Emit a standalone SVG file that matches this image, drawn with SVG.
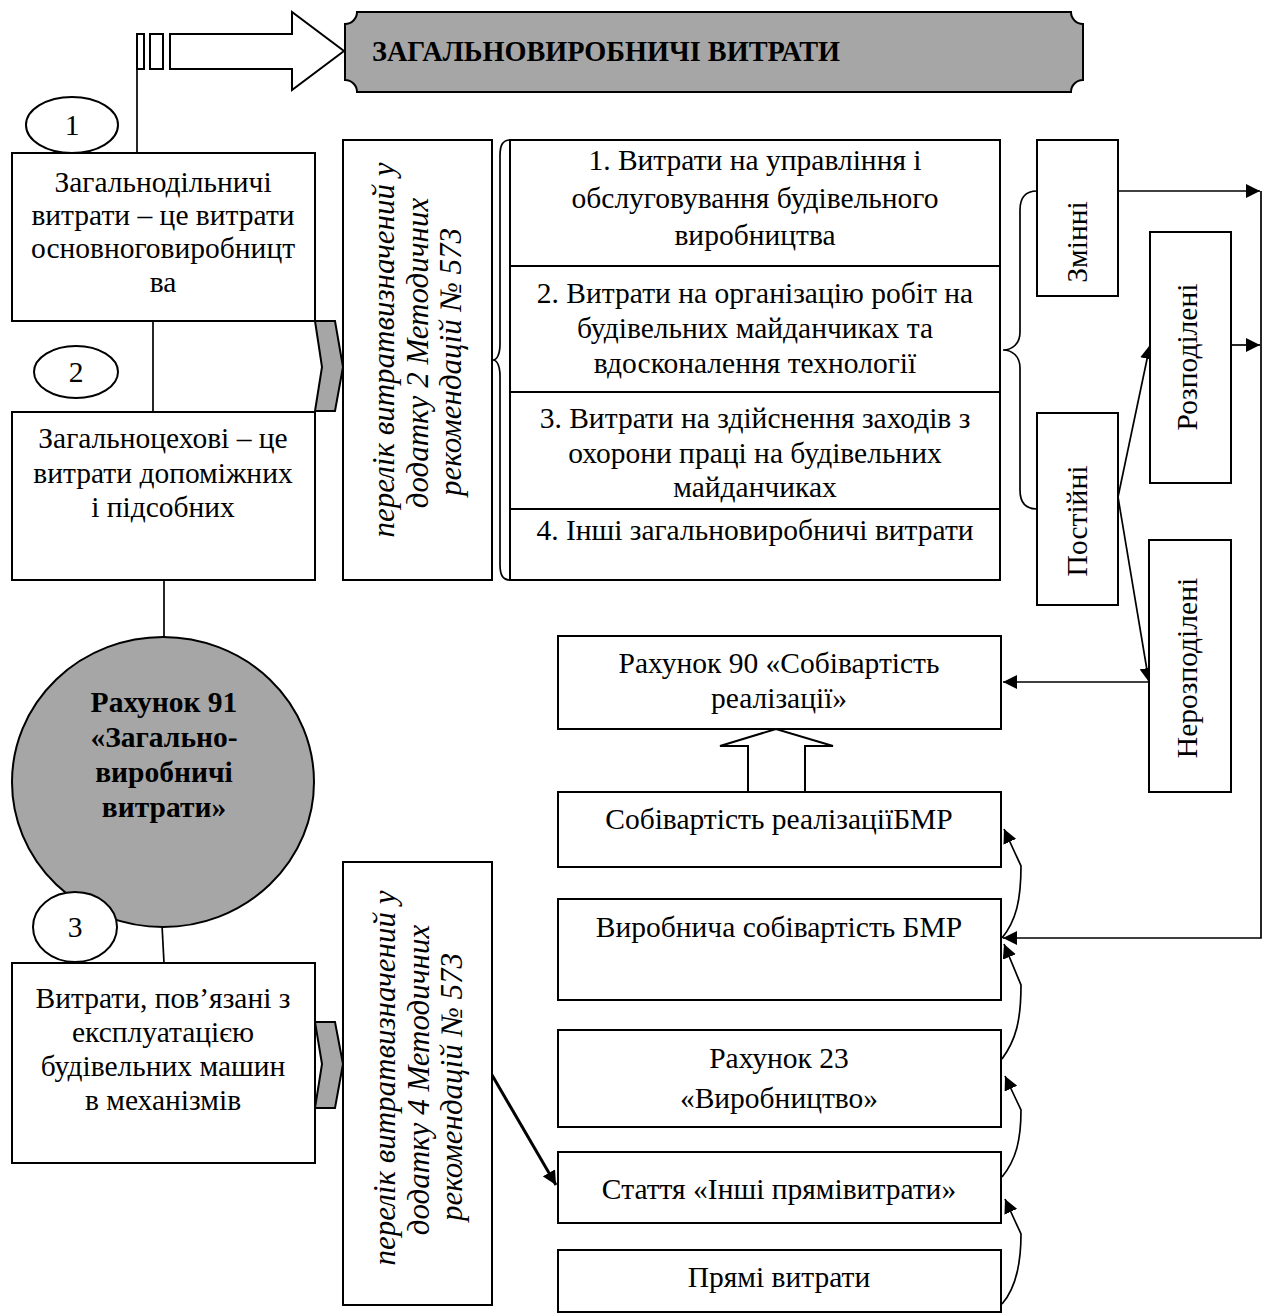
<svg xmlns="http://www.w3.org/2000/svg" width="1263" height="1314" viewBox="0 0 1263 1314">
<defs>
<style>
text{font-family:"Liberation Serif","Times New Roman",serif;font-size:29.5px;fill:#000}
.c{text-anchor:middle}
.b{font-weight:bold}
.i{font-style:italic;font-size:31px}
.box{fill:#fff;stroke:#000;stroke-width:2}
.ln{fill:none;stroke:#000;stroke-width:1.7}
.grey{fill:#a6a6a6;stroke:#000;stroke-width:2}
</style>
<marker id="ah" viewBox="0 0 14 14" refX="14" refY="7" markerWidth="14" markerHeight="14" markerUnits="userSpaceOnUse" orient="auto"><path d="M0,0 L14,7 L0,14 z" fill="#000" stroke="none"/></marker>
</defs>

<g id="connectors">
<path class="ln" d="M137,70 V153"/>
<path class="ln" d="M153,321 V412"/>
<path class="ln" d="M164,580 V637"/>
<path class="ln" d="M162,925 L164,963"/>
<path class="ln" d="M1118,191 H1260" marker-end="url(#ah)"/>
<path class="ln" d="M1231,345 H1260" marker-end="url(#ah)"/>
<path class="ln" d="M1261,191 V938 H1003" marker-end="url(#ah)"/>
<path class="ln" d="M1118,497 L1150,345" marker-end="url(#ah)"/>
<path class="ln" d="M1118,497 L1149,682" marker-end="url(#ah)"/>
<path class="ln" d="M1149,682 H1003" marker-end="url(#ah)"/>
<path fill="none" stroke="#000" stroke-width="3" d="M492,1075 L556,1185" marker-end="url(#ah)"/>
<path class="ln" d="M1002,938 C1016,921 1021,900 1021,866 L1004,829" marker-end="url(#ah)"/>
<path class="ln" d="M1002,1059 C1016,1040 1021,1020 1021,985 L1004,944" marker-end="url(#ah)"/>
<path class="ln" d="M1002,1177 C1016,1160 1021,1140 1021,1110 L1005,1076" marker-end="url(#ah)"/>
<path class="ln" d="M1002,1304 C1016,1288 1021,1265 1021,1234 L1005,1199" marker-end="url(#ah)"/>
<path class="ln" d="M510,140 C502,140 500,146 500,156 L500,344 C500,354 497,360 493,360 C497,360 500,366 500,376 L500,564 C500,574 502,580 510,580"/>
<path class="ln" d="M1037,191 C1026,191 1020,197 1020,210 L1020,332 C1020,344 1012,350 1003,350 C1012,350 1020,356 1020,368 L1020,490 C1020,503 1026,509 1037,509"/>
<polygon class="box" points="748,792 748,746 720,746 776,729 833,746 805,746 805,792"/>
<polygon class="grey" points="315,321 335,321 343,367 335,411 315,411 322,367"/>
<polygon class="grey" points="315,1022 335,1022 343,1064 335,1108 315,1108 322,1064"/>
<rect class="box" x="137" y="34" width="7" height="35"/>
<rect class="box" x="150" y="34" width="13" height="35"/>
<polygon class="box" points="170,34 292,34 292,12 344,51 292,90 292,69 170,69"/>
</g>

<g id="header">
<path class="grey" d="M345,24 A12,12 0 0 0 357,12 H1071 A12,12 0 0 0 1083,24 V80 A12,12 0 0 0 1071,92 H357 A12,12 0 0 0 345,80 Z"/>
<text class="b" x="372" y="61" style="font-size:30px" textLength="468" lengthAdjust="spacingAndGlyphs">ЗАГАЛЬНОВИРОБНИЧІ ВИТРАТИ</text>
</g>

<g id="n1"><ellipse class="box" cx="72" cy="125" rx="46" ry="28"/><text class="c" x="72" y="135">1</text></g>
<g id="box1"><rect class="box" x="12" y="153" width="303" height="168"/>
<text class="c" x="163" y="192">Загальнодільничі</text>
<text class="c" x="163" y="225">витрати – це витрати</text>
<text class="c" x="163" y="258">основноговиробницт</text>
<text class="c" x="163" y="292">ва</text></g>

<g id="n2"><ellipse class="box" cx="76" cy="372" rx="42" ry="26"/><text class="c" x="76" y="382">2</text></g>
<g id="box2"><rect class="box" x="12" y="412" width="303" height="168"/>
<text class="c" x="163" y="448">Загальноцехові – це</text>
<text class="c" x="163" y="483">витрати допоміжних</text>
<text class="c" x="163" y="517">і підсобних</text></g>

<g id="list1"><rect class="box" x="343" y="140" width="149" height="440"/>
<text class="c i" transform="translate(394,350) rotate(-90)">перелік витратвизначений у</text>
<text class="c i" transform="translate(428,353) rotate(-90)">додатку 2 Методичних</text>
<text class="c i" transform="translate(461,362) rotate(-90)">рекомендацій № 573</text>
</g>

<g id="items">
<rect class="box" x="510" y="140" width="490" height="126"/>
<rect class="box" x="510" y="266" width="490" height="126"/>
<rect class="box" x="510" y="392" width="490" height="117"/>
<rect class="box" x="510" y="509" width="490" height="71"/>
<text class="c" x="755" y="170">1. Витрати на управління і</text>
<text class="c" x="755" y="208">обслуговування будівельного</text>
<text class="c" x="755" y="245">виробництва</text>
<text class="c" x="755" y="303">2. Витрати на організацію робіт на</text>
<text class="c" x="755" y="338">будівельних майданчиках та</text>
<text class="c" x="755" y="373">вдосконалення технології</text>
<text class="c" x="755" y="428">3. Витрати на здійснення заходів з</text>
<text class="c" x="755" y="463">охорони праці на будівельних</text>
<text class="c" x="755" y="497">майданчиках</text>
<text class="c" x="755" y="540">4. Інші загальновиробничі витрати</text>
</g>

<g id="zminni"><rect class="box" x="1037" y="140" width="81" height="156"/><text class="c" transform="translate(1087,242) rotate(-90)">Змінні</text></g>
<g id="postiini"><rect class="box" x="1037" y="413" width="81" height="192"/><text class="c" transform="translate(1087,521) rotate(-90)">Постійні</text></g>
<g id="rozpodileni"><rect class="box" x="1150" y="232" width="81" height="251"/><text class="c" transform="translate(1197,357) rotate(-90)">Розподілені</text></g>
<g id="nerozpodileni"><rect class="box" x="1149" y="540" width="82" height="252"/><text class="c" transform="translate(1197,668) rotate(-90)">Нерозподілені</text></g>

<g id="rah90"><rect class="box" x="558" y="636" width="443" height="93"/>
<text class="c" x="779" y="673">Рахунок 90 «Собівартість</text>
<text class="c" x="779" y="708">реалізації»</text></g>

<g id="rah91"><ellipse cx="163" cy="782" rx="151" ry="145" fill="#a6a6a6" stroke="#000" stroke-width="2"/>
<text class="c b" x="164" y="712">Рахунок 91</text>
<text class="c b" x="164" y="747">«Загально-</text>
<text class="c b" x="164" y="782">виробничі</text>
<text class="c b" x="164" y="817">витрати»</text></g>

<g id="n3"><ellipse class="box" cx="75" cy="927" rx="42" ry="35"/><text class="c" x="75" y="937">3</text></g>
<g id="box3"><rect class="box" x="12" y="963" width="303" height="200"/>
<text class="c" x="163" y="1008">Витрати, пов’язані з</text>
<text class="c" x="163" y="1042">експлуатацією</text>
<text class="c" x="163" y="1076">будівельних машин</text>
<text class="c" x="163" y="1110">в механізмів</text></g>

<g id="list2"><rect class="box" x="343" y="862" width="149" height="443"/>
<text class="c i" transform="translate(395,1078) rotate(-90)">перелік витратвизначений у</text>
<text class="c i" transform="translate(429,1080) rotate(-90)">додатку 4 Методичних</text>
<text class="c i" transform="translate(462,1087) rotate(-90)">рекомендацій № 573</text></g>

<g id="sobivartist"><rect class="box" x="558" y="792" width="443" height="75"/><text class="c" x="779" y="829">Собівартість реалізаціїБМР</text></g>
<g id="vyrobnycha"><rect class="box" x="558" y="899" width="443" height="101"/><text class="c" x="779" y="937">Виробнича собівартість БМР</text></g>
<g id="rah23"><rect class="box" x="558" y="1030" width="443" height="97"/><text class="c" x="779" y="1068">Рахунок 23</text><text class="c" x="779" y="1108">«Виробництво»</text></g>
<g id="stattia"><rect class="box" x="558" y="1152" width="443" height="71"/><text class="c" x="779" y="1199">Стаття «Інші прямівитрати»</text></g>
<g id="priami"><rect class="box" x="558" y="1250" width="443" height="62"/><text class="c" x="779" y="1287">Прямі витрати</text></g>
</svg>
